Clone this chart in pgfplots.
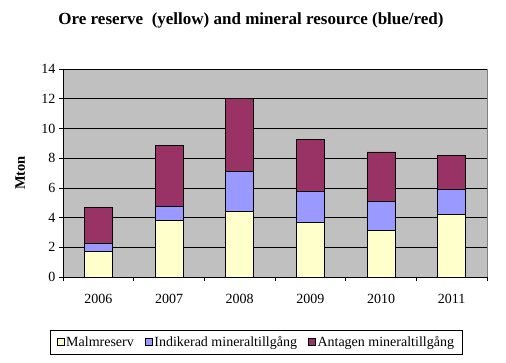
\documentclass[border=0pt]{standalone}
\usepackage{pgfplots}
\pgfplotsset{compat=1.18}
\usepackage{fontspec}
\setmainfont{Liberation Serif}
\definecolor{cyel}{HTML}{FFFFCC}
\definecolor{cblu}{HTML}{9999FF}
\definecolor{cred}{HTML}{993366}
\definecolor{cbg}{HTML}{C0C0C0}
\pgfplotsset{sqleg/.style={legend image code/.code={\draw[##1,draw=black,line width=0.5pt] (0pt,-3.5pt) rectangle (7pt,3.5pt);}}}
\begin{document}
\begin{tikzpicture}[x=1pt,y=1pt]
\path[use as bounding box] (0,0) rectangle (506,362);
\node[font=\fontsize{17}{19}\selectfont\bfseries] at (251,342) {Ore reserve\ \ (yellow) and mineral resource (blue/red)};
\begin{axis}[
  at={(63pt,85pt)}, anchor=south west,
  scale only axis, width=424pt, height=208pt,
  ybar stacked, bar width=28pt,
  xmin=-0.5, xmax=5.5, ymin=0, ymax=14,
  axis background/.style={fill=cbg, draw=gray},
  axis x line*=bottom, axis y line*=left,
  axis line style={-, black, line width=0.6pt},
  xtick={0,1,2,3,4,5},
  xticklabels={2006,2007,2008,2009,2010,2011},
  minor xtick={-0.5,0.5,1.5,2.5,3.5,4.5,5.5},
  ytick={0,2,4,6,8,10,12,14},
  tick align=outside,
  major x tick style={draw=none},
  minor tick length=4pt, major tick length=4pt,
  tick style={black, line width=0.6pt},
  ymajorgrids, major grid style={black, line width=0.6pt},
  ticklabel style={font=\fontsize{14}{16}\selectfont},
  xticklabel style={yshift=-10pt},
  /pgf/number format/assume math mode=true,
  ylabel={Mton},
  ylabel style={font=\fontsize{14.5}{16}\selectfont\bfseries, at={(axis description cs:-0.101,0.5)}, anchor=center},
  legend style={at={(axis description cs:0.456,-0.3125)}, anchor=center, legend columns=3,
    draw=black, line width=0.6pt, font=\fontsize{14}{16}\selectfont,
    inner xsep=6pt, inner ysep=4pt,
    /tikz/every even column/.append style={column sep=9pt}},
  legend cell align=left,
]
\addplot[sqleg, fill=cyel, draw=black, line width=0.6pt] coordinates {(0,1.73) (1,3.83) (2,4.41) (3,3.67) (4,3.15) (5,4.19)};
\addplot[sqleg, fill=cblu, draw=black, line width=0.6pt] coordinates {(0,0.52) (1,0.94) (2,2.72) (3,2.11) (4,1.94) (5,1.68)};
\addplot[sqleg, fill=cred, draw=black, line width=0.6pt] coordinates {(0,2.43) (1,4.08) (2,4.87) (3,3.47) (4,3.33) (5,2.30)};
\legend{Malmreserv, Indikerad mineraltillgång, Antagen mineraltillgång}
\end{axis}
\end{tikzpicture}
\end{document}
